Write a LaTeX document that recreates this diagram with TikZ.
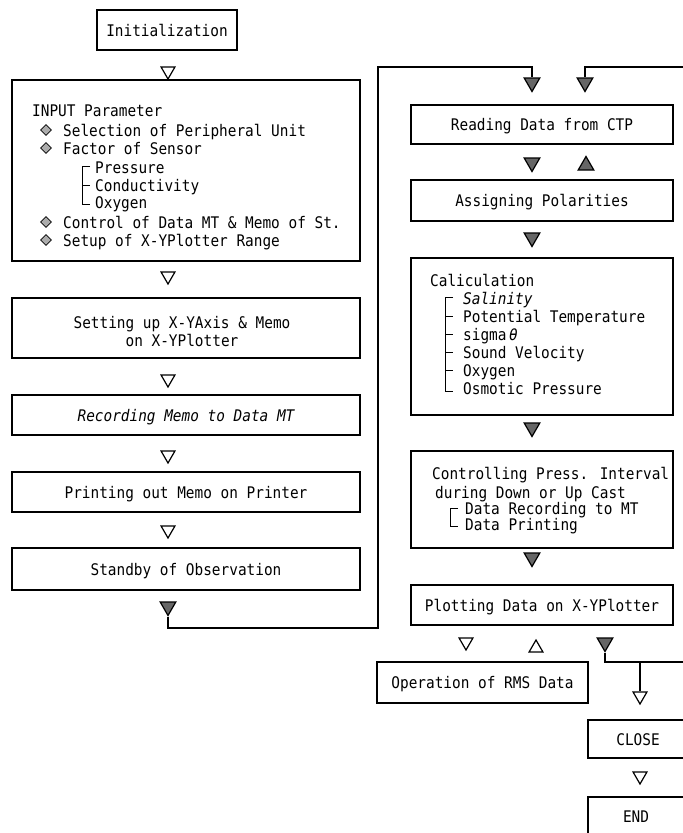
\documentclass[tikz,border=0pt]{standalone}
\usepackage{fontspec}
\setmainfont{DejaVu Sans Mono}[FakeStretch=0.9]
\usetikzlibrary{shapes.geometric}
\definecolor{trifill}{gray}{0.4}
\tikzset{
  box/.style={draw, line width=1.5pt, inner sep=0pt, text height=12pt, text depth=0pt},
  lbl/.style={anchor=base west, inner sep=0pt},
  ctr/.style={anchor=base, inner sep=0pt},
  tdo/.style={regular polygon, regular polygon sides=3, shape border rotate=180, draw, line width=1.2pt, minimum size=16pt, inner sep=0pt, fill=white},
  tuo/.style={regular polygon, regular polygon sides=3, draw, line width=1.2pt, minimum size=16pt, inner sep=0pt, fill=white},
  tdf/.style={regular polygon, regular polygon sides=3, shape border rotate=180, draw, line width=1.2pt, minimum size=18pt, inner sep=0pt, fill=trifill},
  tuf/.style={regular polygon, regular polygon sides=3, draw, line width=1.2pt, minimum size=18pt, inner sep=0pt, fill=trifill},
  dia/.style={diamond, draw, fill=gray!65, line width=0.8pt, minimum size=11pt, inner sep=0pt},
  wire/.style={line width=1.5pt},
  brk/.style={line width=1pt},
}
\begin{document}
\begin{tikzpicture}[x=1pt,y=-1pt]
\fontsize{16}{18}\selectfont
\clip (0,0) rectangle (683,833);
% ---------------- left column ----------------
\node[box, minimum width=140pt, minimum height=40pt] (init) at (167,30) {Initialization};
\node[tdo] (t1) at (168,71) {};
\node[box, minimum width=348pt, minimum height=181pt] (inp) at (186,170.5) {};
\node[lbl] (inpA) at (32,116) {INPUT Parameter};
\node[dia] (d1) at (46,130) {};
\node[lbl] (inpB) at (63,136) {Selection of Peripheral Unit};
\node[dia] (d2) at (46,148) {};
\node[lbl] (inpC) at (63,154) {Factor of Sensor};
\node[lbl] (inpC1) at (95,173) {Pressure};
\node[lbl] (inpC2) at (95,191) {Conductivity};
\node[lbl] (inpC3) at (95,208) {Oxygen};
\draw[brk] (90,166) -- (82,166) -- (82,204) -- (90,204) (82,185) -- (90,185);
\node[dia] (d3) at (46,222) {};
\node[lbl] (inpD) at (63,228) {Control of Data MT \& Memo of St.};
\node[dia] (d4) at (46,240) {};
\node[lbl] (inpE) at (63,246) {Setup of X-YPlotter Range};
\node[tdo] (t2) at (168,276) {};
\node[box, minimum width=348pt, minimum height=60pt] (setx) at (186,328) {};
\node[ctr] (setA) at (182,328) {Setting up X-YAxis \& Memo};
\node[ctr] (setB) at (182,346) {on X-YPlotter};
\node[tdo] (t3) at (168,379) {};
\node[box, minimum width=348pt, minimum height=40pt] (rec) at (186,415) {\itshape Recording Memo to Data MT};
\node[tdo] (t4) at (168,455) {};
\node[box, minimum width=348pt, minimum height=40pt] (prn) at (186,492) {Printing out Memo on Printer};
\node[tdo] (t5) at (168,530) {};
\node[box, minimum width=348pt, minimum height=42pt] (sby) at (186,569) {Standby of Observation};
\node[tdf] (sb) at (168,606.5) {};
% ---------------- right column ----------------
\node[tdf] (r1) at (532,82.5) {};
\node[tdf] (r2) at (585,82.5) {};
\node[box, minimum width=262pt, minimum height=39pt] (read) at (542,124.5) {Reading Data from CTP};
\node[tdf] (a1) at (532,162.5) {};
\node[tuf] (a2) at (586,165.5) {};
\node[box, minimum width=262pt, minimum height=41pt] (asg) at (542,200.5) {Assigning Polarities};
\node[tdf] (a3) at (532,237.5) {};
\node[box, minimum width=262pt, minimum height=157pt] (calc) at (542,336.5) {};
\node[lbl] (calA) at (430,286) {Caliculation};
\node[lbl] (calB) at (463,304) {\itshape Salinity};
\node[lbl] (calC) at (463,322) {Potential Temperature};
\node[lbl] (calD) at (463,340) {sigma\,{\itshape θ}};
\node[lbl] (calE) at (463,358) {Sound Velocity};
\node[lbl] (calF) at (463,376) {Oxygen};
\node[lbl] (calG) at (463,394) {Osmotic Pressure};
\draw[brk] (453,297) -- (445,297) -- (445,391) -- (453,391)
  (445,316) -- (453,316) (445,334) -- (453,334) (445,352) -- (453,352) (445,370) -- (453,370);
\node[tdf] (a4) at (532,427.5) {};
\node[box, minimum width=262pt, minimum height=97pt] (ctrl) at (542,499.5) {};
\node[lbl] (ctA) at (432,479) {Controlling Press. Interval};
\node[lbl] (ctB) at (435,498) {during Down or Up Cast};
\node[lbl] (ctC) at (465,514) {Data Recording to MT};
\node[lbl] (ctD) at (465,530) {Data Printing};
\draw[brk] (458,508) -- (450,508) -- (450,526) -- (458,526);
\node[tdf] (a5) at (532,557.5) {};
\node[box, minimum width=262pt, minimum height=40pt] (plot) at (542,605) {Plotting Data on X-YPlotter};
\node[tdo] (p1) at (466,642) {};
\node[tuo] (p2) at (536,648) {};
\node[tdf] (p3) at (605,642.5) {};
\node[box, minimum width=211pt, minimum height=41pt] (rms) at (482.5,682.5) {Operation of RMS Data};
\node[tdo] (cl1) at (640,696) {};
\node[box, minimum width=100pt, minimum height=38pt] (close) at (638,739) {CLOSE};
\node[tdo] (cl2) at (640,776) {};
\node[box, minimum width=100pt, minimum height=56pt] (endb) at (638,825) {};
\node[ctr] (endt) at (636,822) {END};
% ---------------- connectors ----------------
\coordinate (c1) at (378,628);
\coordinate (c2) at (378,67);
\draw[wire] (sb.south) |- (c1) -- (c2) -| (r1.north);
\coordinate (e1) at (700,67);
\draw[wire] (e1) -| (r2.north);
\coordinate (e2) at (700,662);
\draw[wire] (p3.south) |- (e2);
\coordinate (b1) at (640,662);
\draw[wire] (b1) -- (cl1.north);
\end{tikzpicture}
\end{document}
